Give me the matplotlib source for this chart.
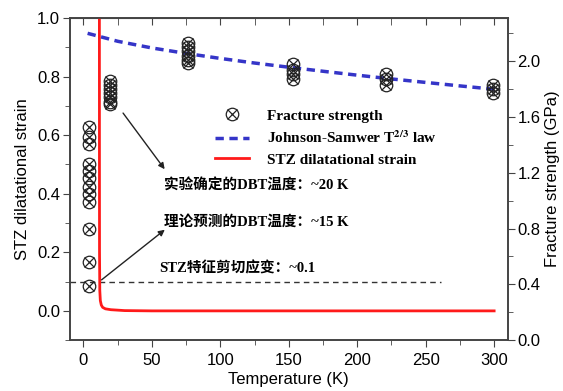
import matplotlib
matplotlib.use("Agg")
import matplotlib.pyplot as plt
from matplotlib.ticker import MultipleLocator
from matplotlib.lines import Line2D

# fracture strength (GPa) at each test temperature (K)
t_4k = [4] * 12
s_4k = [1.53, 1.46, 1.41, 1.26, 1.21, 1.16, 1.10, 1.05, 0.99, 0.80, 0.56, 0.39]
t_20k = [19] * 7
s_20k = [1.86, 1.83, 1.80, 1.77, 1.74, 1.71, 1.69]
t_77k = [76] * 6
s_77k = [2.13, 2.10, 2.07, 2.04, 2.01, 1.99]
t_153k = [153] * 4
s_153k = [1.98, 1.94, 1.91, 1.87]
t_223k = [221] * 3
s_223k = [1.91, 1.87, 1.83]
t_298k = [299] * 3
s_298k = [1.83, 1.80, 1.77]

frac_t = t_4k + t_20k + t_77k + t_153k + t_223k + t_298k
frac_s = s_4k + s_20k + s_77k + s_153k + s_223k + s_298k

# Johnson-Samwer T^(2/3) law curve (GPa)
js_t = [3, 25, 50, 75, 100, 125, 150, 175, 200, 225, 250, 275, 300]
js_s = [2.20, 2.143, 2.095, 2.056, 2.020, 1.987, 1.957, 1.928, 1.900, 1.873, 1.848, 1.823, 1.799]

# STZ dilatational strain
stz_t = [11.6, 11.65, 11.7, 11.9, 12.3, 13.0, 14.0, 16.0, 20.0, 30.0, 50.0, 100.0, 300.0]
stz_e = [1.10, 0.50, 0.20, 0.07, 0.035, 0.02, 0.012, 0.007, 0.004, 0.001, 0.0, 0.0, 0.0]

shear_strain = 0.1

plt.rcParams['font.family'] = ['Liberation Sans', 'DejaVu Sans']
plt.rcParams['mathtext.fontset'] = 'stix'
serif = ['Liberation Serif', 'Noto Sans CJK SC', 'DejaVu Sans']

fig = plt.figure(figsize=(5.63, 3.91), dpi=100)
ax = fig.add_axes([0.124, 0.130, 0.778, 0.824])
ax2 = ax.twinx()

red, = ax.plot(stz_t, stz_e, color='#ff1a1a', lw=2, zorder=3)
ax.plot([-10, 261], [shear_strain, shear_strain], color='#333333', lw=1,
        dashes=(4, 3), zorder=2)

blue, = ax2.plot(js_t, js_s, color='#3535c8', lw=2.5, dashes=(2.4, 1.6), zorder=3)
ax2.plot(frac_t, frac_s, ls='none', marker='o', ms=9, mfc='none', mec='#222222',
         mew=0.9, zorder=4)
ax2.plot(frac_t, frac_s, ls='none', marker='x', ms=6.5, mec='#222222', mew=0.9, zorder=4)

ax.set_xlim(-10, 310)
ax.set_ylim(-0.1, 1.0)
ax2.set_ylim(0, 2.31)

ax.xaxis.set_major_locator(MultipleLocator(50))
ax.xaxis.set_minor_locator(MultipleLocator(25))
ax.yaxis.set_minor_locator(MultipleLocator(0.1))
ax.set_yticks([0.0, 0.2, 0.4, 0.6, 0.8, 1.0])
ax2.yaxis.set_major_locator(MultipleLocator(0.4))
ax2.yaxis.set_minor_locator(MultipleLocator(0.2))

for a in (ax, ax2):
    a.tick_params(which='both', direction='out', labelsize=12, color='#444444', pad=2)
    a.tick_params(which='major', length=5)
    a.tick_params(which='minor', length=3.5)
    for sp in a.spines.values():
        sp.set_color('#444444')
        sp.set_linewidth(1.2)
ax.tick_params(axis='x', pad=4)

top = ax.secondary_xaxis('top')
top.xaxis.set_major_locator(MultipleLocator(50))
top.xaxis.set_minor_locator(MultipleLocator(25))
top.tick_params(which='both', direction='in', labeltop=False, length=5, color='#444444')
top.spines['top'].set_color('#444444')

ax.set_xlabel('Temperature (K)', fontsize=12, labelpad=3)
ax.set_ylabel('STZ dilatational strain', fontsize=12, labelpad=5)
ax2.set_ylabel('Fracture strength (GPa)', fontsize=12, labelpad=3)

# annotations
ax.annotate('', xy=(60.5, 0.476), xytext=(27.7, 0.683),
            arrowprops=dict(arrowstyle='-|>', color='#222222', lw=1, mutation_scale=9))
ax.annotate('', xy=(61, 0.283), xytext=(11.6, 0.1),
            arrowprops=dict(arrowstyle='-|>', color='#222222', lw=1, mutation_scale=9))

ax.text(59, 0.431, '实验确定的DBT温度：~20 K', family=serif, weight='bold',
        fontsize=10.5, va='center')
ax.text(59, 0.303, '理论预测的DBT温度：~15 K', family=serif, weight='bold',
        fontsize=10.5, va='center')
ax.text(55, 0.145, 'STZ特征剪切应变：~0.1', family=serif, weight='bold',
        fontsize=10.5, va='center')

marker_o = Line2D([], [], ls='none', marker='o', ms=9, mfc='none', mec='#222222', mew=0.9)
marker_x = Line2D([], [], ls='none', marker='x', ms=6.5, mec='#222222', mew=0.9)
leg = ax.legend([(marker_o, marker_x), blue, red],
                ['Fracture strength', r'Johnson-Samwer T$^{\mathbf{2/3}}$ law',
                 'STZ dilatational strain'],
                loc='upper left', bbox_to_anchor=(0.30, 0.76), frameon=False,
                prop=dict(family=serif, weight='bold', size=11),
                labelspacing=0.45, handlelength=2.2, handletextpad=1.2)

fig.savefig('out.png', dpi=100)
